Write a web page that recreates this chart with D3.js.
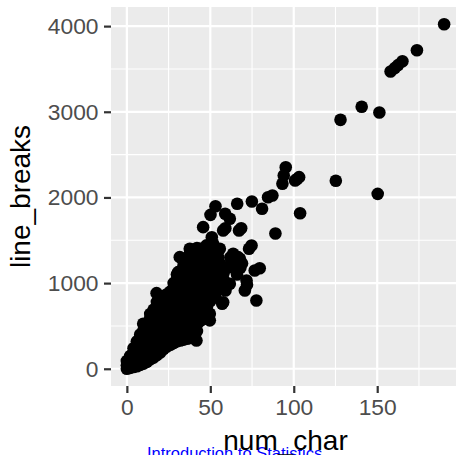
<!DOCTYPE html>
<html>
<head>
<meta charset="utf-8">
<script src="https://cdn.jsdelivr.net/npm/d3@7"></script>
<style>
  html, body { margin: 0; padding: 0; background: #ffffff; }
  svg { display: block; }
</style>
</head>
<body>
<svg id="chart" width="456" height="455"></svg>
<script>
// ---- data ----
// dense core: num_char column -> line_breaks values
const coreNumChar = [0, 2, 4, 6, 8, 10, 12, 14, 16, 18, 20, 22, 24, 26, 28, 30, 32, 34, 36, 38, 40, 42, 44, 46, 48, 50, 52, 54, 56, 58];
const coreLineBreaks = [
  [0, 40, 90],
  [10, 80, 150],
  [20, 90, 170, 240],
  [30, 100, 180, 260, 320],
  [45, 120, 200, 280, 360, 400],
  [60, 140, 220, 300, 380, 450],
  [80, 160, 240, 320, 400, 480, 530],
  [110, 190, 270, 350, 430, 510, 590, 640],
  [130, 210, 290, 370, 450, 530, 610, 690],
  [160, 240, 320, 400, 480, 560, 640, 720, 780],
  [190, 270, 350, 430, 510, 590, 670, 750, 820],
  [230, 300, 380, 460, 540, 620, 700, 780, 850],
  [260, 330, 410, 490, 570, 650, 730, 810, 870],
  [280, 360, 440, 520, 600, 680, 760, 840, 900],
  [300, 380, 460, 540, 620, 700, 780, 860, 940, 1000],
  [320, 400, 480, 560, 640, 720, 800, 880, 960, 1040, 1100],
  [330, 410, 490, 570, 650, 730, 810, 890, 970, 1050, 1140],
  [340, 420, 500, 580, 660, 740, 820, 900, 980, 1060, 1140, 1210],
  [350, 430, 510, 590, 670, 750, 830, 910, 990, 1070, 1150, 1230, 1300],
  [360, 440, 520, 600, 680, 760, 840, 920, 1000, 1080, 1160, 1240, 1320, 1370],
  [380, 460, 540, 620, 700, 780, 860, 940, 1020, 1100, 1180, 1260, 1340, 1390],
  [440, 520, 600, 680, 760, 840, 920, 1000, 1080, 1160, 1240, 1320, 1390],
  [560, 640, 720, 800, 880, 960, 1040, 1120, 1200, 1280, 1350, 1400],
  [650, 730, 810, 890, 970, 1050, 1130, 1210, 1290, 1370, 1400],
  [720, 800, 880, 960, 1040, 1120, 1200, 1280, 1360],
  [790, 870, 950, 1030, 1110, 1190, 1270, 1350],
  [850, 930, 1010, 1090, 1170, 1250, 1330, 1420],
  [920, 1000, 1080, 1160, 1240, 1320],
  [980, 1060, 1140, 1220],
  [1040, 1120]
];
// scattered emails outside the dense core: [num_char, line_breaks]
const sparsePoints = [
  [190.1, 4022], [173.8, 3719], [165.1, 3590], [162.5, 3545], [160.5, 3510], [158.0, 3470],
  [140.7, 3058], [151.3, 2992], [128.0, 2906], [125.2, 2194], [150.3, 2042],
  [103.8, 1816], [89.0, 1579], [103.2, 2237], [100.8, 2198], [102.0, 2215],
  [95.2, 2353], [94.0, 2256], [93.2, 2160], [87.2, 2023], [84.6, 2003], [81.0, 1868],
  [74.9, 1953], [66.1, 1926], [53.1, 1898], [50.1, 1797], [58.9, 1809], [61.7, 1751],
  [45.7, 1653], [57.7, 1614], [59.0, 1640], [67.2, 1614], [68.5, 1640],
  [74.7, 1439], [73.2, 1401], [50.9, 1536], [51.7, 1459], [55.7, 1401],
  [31.7, 1303], [37.7, 1401], [42.0, 1410], [47.7, 1440],
  [62.7, 1244], [63.7, 1342], [66.6, 1303], [65.6, 1147], [67.7, 1284],
  [64.0, 1200], [68.0, 1180], [66.0, 1100], [62.0, 1300], [65.0, 1250], [69.0, 1230], [61.0, 1186],
  [79.6, 1174], [76.6, 1148], [71.7, 1031], [70.7, 914], [72.0, 980], [77.6, 797],
  [61.7, 992], [59.1, 914], [57.1, 759], [53.1, 836], [55.7, 952], [57.7, 777],
  [54.6, 1128], [53.7, 1147], [54.7, 1303], [51.7, 1420], [51.7, 1342], [49.7, 1381],
  [17.8, 883], [30.7, 1128], [9.8, 525], [46.8, 584], [41.7, 330],
  [49.7, 642], [49.7, 565], [48.7, 914], [39.7, 1147], [31.7, 1089]
];
const xTicks = [0, 50, 100, 150];
const xMinor = [25, 75, 125, 175];
const yTicks = [0, 1000, 2000, 3000, 4000];
const yMinor = [500, 1500, 2500, 3500];
const xTitle = "num_char";
const yTitle = "line_breaks";
const captionText = "Introduction to Statistics";

// ---- build point table ----
const points = [];
coreNumChar.forEach((nc, i) => coreLineBreaks[i].forEach(lb => points.push({ x: nc, y: lb })));
sparsePoints.forEach(p => points.push({ x: p[0], y: p[1] }));

// ---- layout ----
const W = 456, H = 455;
const panel = { left: 111, right: 460, top: 7, bottom: 386 };
const svg = d3.select("#chart");
const FONT = "'Liberation Sans', Arial, Helvetica, sans-serif";

const xExt = d3.extent(points, d => d.x);
const yExt = d3.extent(points, d => d.y);
const xPad = (xExt[1] - xExt[0]) * 0.05;
const yPad = (yExt[1] - yExt[0]) * 0.05;
const x = d3.scaleLinear().domain([xExt[0] - xPad, xExt[1] + xPad]).range([panel.left, panel.right]);
const y = d3.scaleLinear().domain([yExt[0] - yPad, yExt[1] + yPad]).range([panel.bottom, panel.top]);

svg.append("defs").append("clipPath").attr("id", "pclip")
  .append("rect").attr("x", panel.left).attr("y", panel.top)
  .attr("width", panel.right - panel.left).attr("height", panel.bottom - panel.top);

const pg = svg.append("g").attr("clip-path", "url(#pclip)");
pg.append("rect").attr("x", panel.left).attr("y", panel.top)
  .attr("width", panel.right - panel.left).attr("height", panel.bottom - panel.top)
  .attr("fill", "#EBEBEB");

// minor grid
pg.selectAll(".xminor").data(xMinor).join("line")
  .attr("x1", d => x(d)).attr("x2", d => x(d)).attr("y1", panel.top).attr("y2", panel.bottom)
  .attr("stroke", "#fff").attr("stroke-width", 1.1);
pg.selectAll(".yminor").data(yMinor).join("line")
  .attr("y1", d => y(d)).attr("y2", d => y(d)).attr("x1", panel.left).attr("x2", panel.right)
  .attr("stroke", "#fff").attr("stroke-width", 1.1);
// major grid
pg.selectAll(".xmajor").data(xTicks).join("line")
  .attr("x1", d => x(d)).attr("x2", d => x(d)).attr("y1", panel.top).attr("y2", panel.bottom)
  .attr("stroke", "#fff").attr("stroke-width", 2.2);
pg.selectAll(".ymajor").data(yTicks).join("line")
  .attr("y1", d => y(d)).attr("y2", d => y(d)).attr("x1", panel.left).attr("x2", panel.right)
  .attr("stroke", "#fff").attr("stroke-width", 2.2);

// points
pg.selectAll("circle.pt").data(points).join("circle")
  .attr("class", "pt")
  .attr("cx", d => x(d.x)).attr("cy", d => y(d.y)).attr("r", 6.3)
  .attr("fill", "#000");

// axes
function styleAxis(g) {
  g.select(".domain").remove();
  g.selectAll(".tick line").attr("stroke", "#333333").attr("stroke-width", 2.2);
  g.selectAll(".tick text").attr("fill", "#4D4D4D").attr("font-size", "22.8px").attr("font-family", FONT);
}
svg.append("g").attr("transform", `translate(0,${panel.bottom})`)
  .call(d3.axisBottom(x).tickValues(xTicks).tickSize(7).tickPadding(5.5).tickFormat(d3.format("d")))
  .call(styleAxis);
svg.append("g").attr("transform", `translate(${panel.left},0)`)
  .call(d3.axisLeft(y).tickValues(yTicks).tickSize(7).tickPadding(5.5).tickFormat(d3.format("d")))
  .call(styleAxis);

// caption (blue, partly cut at bottom)
svg.append("text").attr("x", 147).attr("y", 458.5)
  .attr("font-family", FONT).attr("font-size", "16.5px").attr("fill", "#0000FF")
  .text(captionText);

// titles
svg.append("text").attr("x", (panel.left + panel.right) / 2).attr("y", 450)
  .attr("text-anchor", "middle").attr("font-family", FONT).attr("font-size", "28px").attr("fill", "#000")
  .text(xTitle);
svg.append("text").attr("transform", `translate(30,${(panel.top + panel.bottom) / 2}) rotate(-90)`)
  .attr("text-anchor", "middle").attr("font-family", FONT).attr("font-size", "28px").attr("fill", "#000")
  .text(yTitle);
</script>
</body>
</html>
